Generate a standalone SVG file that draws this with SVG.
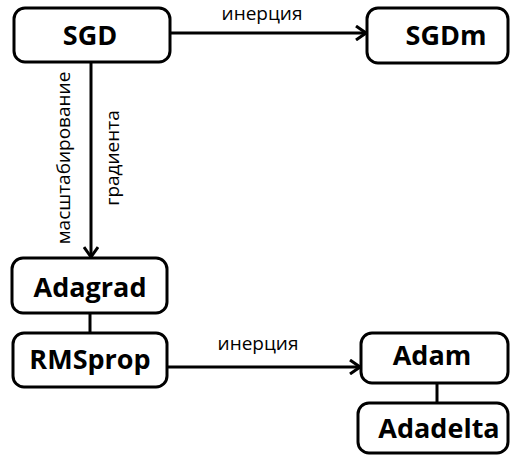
<svg xmlns="http://www.w3.org/2000/svg" width="512" height="464" viewBox="0 0 512 464">
<style>
.box{fill:#fff;stroke:#000;stroke-width:3}
.nt{font-family:"Open Sans","Liberation Sans",sans-serif;font-weight:bold;font-size:27px;fill:#000;text-anchor:middle}
.lb{font-family:"Open Sans","Liberation Sans",sans-serif;font-size:19px;fill:#000;text-anchor:middle}
.c{stroke:#000;stroke-width:3;fill:none}
</style>
<defs>
<marker id="ah" viewBox="0 0 12 16" refX="11" refY="8" markerWidth="12" markerHeight="16" markerUnits="userSpaceOnUse" orient="auto">
<path d="M1,1 L11,8 L1,15" fill="none" stroke="#000" stroke-width="3"/>
</marker>
</defs>
<rect width="512" height="464" fill="#fff"/>
<g id="connectors">
<line class="c" x1="170" y1="33" x2="366" y2="33" marker-end="url(#ah)"/>
<line class="c" x1="91" y1="62" x2="91" y2="257" marker-end="url(#ah)"/>
<line class="c" x1="90" y1="313" x2="90" y2="333"/>
<line class="c" x1="167" y1="367" x2="360" y2="367" marker-end="url(#ah)"/>
<line class="c" x1="437" y1="383" x2="437" y2="403"/>
<text class="lb" x="262" y="20">инерция</text>
<text class="lb" x="258" y="350">инерция</text>
<text class="lb" transform="translate(70,158) rotate(-90)">масштабирование</text>
<text class="lb" transform="translate(119,158) rotate(-90)">градиента</text>
</g>
<g id="SGD"><rect class="box" x="14" y="8" width="156" height="54" rx="11"/><text class="nt" x="90" y="45">SGD</text></g>
<g id="SGDm"><rect class="box" x="367" y="8" width="141" height="55" rx="11"/><text class="nt" x="446" y="45">SGDm</text></g>
<g id="Adagrad"><rect class="box" x="12" y="258" width="155" height="55" rx="11"/><text class="nt" x="90" y="297">Adagrad</text></g>
<g id="RMSprop"><rect class="box" x="13" y="333" width="154" height="54" rx="11"/><text class="nt" x="90" y="369">RMSprop</text></g>
<g id="Adam"><rect class="box" x="361" y="333" width="147" height="50" rx="11"/><text class="nt" x="432" y="365">Adam</text></g>
<g id="Adadelta"><rect class="box" x="358" y="403" width="150" height="50" rx="11"/><text class="nt" x="439" y="438">Adadelta</text></g>
</svg>
